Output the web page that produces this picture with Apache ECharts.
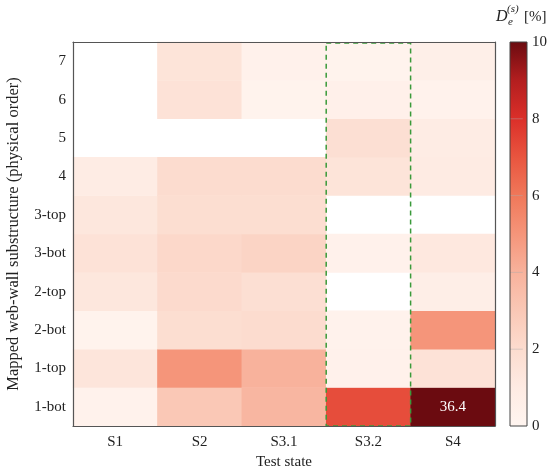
<!DOCTYPE html>
<html>
<head>
<meta charset="utf-8">
<script src="https://cdn.jsdelivr.net/npm/echarts@6/dist/echarts.min.js"></script>
<style>
html,body{margin:0;padding:0;background:#fff;}
#chart{width:550px;height:472px;}
</style>
</head>
<body>
<div id="chart"></div>
<script>
const states = ['S1', 'S2', 'S3.1', 'S3.2', 'S4'];
const parts = ['1-bot', '1-top', '2-bot', '2-top', '3-bot', '3-top', '4', '5', '6', '7'];
// values per state, ordered as parts (null = no data)
const valS1  = [0.3, 1.4, 0.2, 1.3, 1.6, 1.3, 0.9, null, null, null];
const valS2  = [3.0, 5.0, 1.9, 2.1, 2.2, 1.9, 2.0, null, 1.6, 1.5];
const valS31 = [3.8, 4.0, 2.0, 1.8, 2.4, 1.9, 2.0, null, 0.2, 0.4];
const valS32 = [7.2, 0.4, 0.3, null, 0.4, null, 1.5, 1.8, 0.5, 0.2];
const valS4  = [36.4, 1.6, 5.0, 0.7, 1.2, null, 1.0, 0.9, 0.3, 0.6];
const highlightState = 'S3.2';
const cbMin = 0, cbMax = 10, cbStep = 2;
const cmap = ['#fff5f0', '#feebe3', '#fcdccf', '#fac8b6', '#f8b29c', '#f5957a',
              '#f0785a', '#e9553f', '#db2f29', '#b31e1f', '#6b0b10'];

const allVals = [valS1, valS2, valS31, valS32, valS4];
const data = [];
allVals.forEach((col, i) => {
  col.forEach((v, j) => {
    if (v !== null) data.push([i, j, Math.min(v, cbMax), v]);
  });
});

const FONT = 'Liberation Serif';
const chart = echarts.init(document.getElementById('chart'));
const axisLineStyle = { color: '#555', width: 1.2 };

chart.setOption({
  backgroundColor: '#fff',
  animation: false,
  textStyle: { fontFamily: FONT },
  grid: [
    { left: 73, right: 55, top: 42, bottom: 46, containLabel: false, outerBoundsMode: 'none' },
    { left: 510, width: 17, top: 42, bottom: 46, containLabel: false, outerBoundsMode: 'none' }
  ],
  xAxis: [
    {
      type: 'category', data: states, gridIndex: 0, z: 5,
      axisLine: { lineStyle: axisLineStyle },
      axisTick: { inside: true, alignWithLabel: true, length: 4, lineStyle: { color: '#bbb' } },
      axisLabel: { fontFamily: FONT, fontSize: 15, color: '#222', margin: 9 },
      name: 'Test state', nameLocation: 'middle', nameGap: 28,
      nameTextStyle: { fontFamily: FONT, fontSize: 15, color: '#222' },
      splitLine: { show: false }
    },
    {
      type: 'category', data: states, gridIndex: 0, position: 'top', z: 5,
      axisLine: { lineStyle: axisLineStyle },
      axisTick: { show: false }, axisLabel: { show: false }
    },
    {
      type: 'value', gridIndex: 1, min: 0, max: 1, show: false
    }
  ],
  yAxis: [
    {
      type: 'category', data: parts, gridIndex: 0, z: 5,
      axisLine: { lineStyle: axisLineStyle },
      axisTick: { inside: true, alignWithLabel: true, length: 4, lineStyle: { color: '#bbb' } },
      axisLabel: { fontFamily: FONT, fontSize: 15, color: '#222', margin: 7 },
      name: 'Mapped web-wall substructure (physical order)', nameLocation: 'middle', nameGap: 51,
      nameRotate: 90,
      nameTextStyle: { fontFamily: FONT, fontSize: 16.5, color: '#222' },
      splitLine: { show: false }
    },
    {
      type: 'category', data: parts, gridIndex: 0, position: 'right', z: 5,
      axisLine: { lineStyle: axisLineStyle },
      axisTick: { show: false }, axisLabel: { show: false }
    },
    {
      type: 'value', gridIndex: 1, min: cbMin, max: cbMax, interval: cbStep, position: 'right', z: 5,
      axisLine: { show: false },
      axisTick: { show: false },
      axisLabel: { fontFamily: FONT, fontSize: 15, color: '#222', margin: 5 },
      splitLine: { show: false }
    }
  ],
  visualMap: {
    show: false, type: 'continuous', min: cbMin, max: cbMax, dimension: 2, seriesIndex: 0,
    inRange: { color: cmap }
  },
  graphic: [
    { type: 'text', left: 496, top: 9, style: { text: 'D', font: 'italic 16px "Liberation Serif"', fill: '#222' } },
    { type: 'text', left: 507, top: 4, style: { text: '(s)', font: 'italic 11px "Liberation Serif"', fill: '#222' } },
    { type: 'text', left: 508, top: 17, style: { text: 'e', font: 'italic 11px "Liberation Serif"', fill: '#222' } },
    { type: 'text', left: 524, top: 10, style: { text: '[%]', font: '15px "Liberation Serif"', fill: '#222' } }
  ],
  series: [
    {
      type: 'heatmap', xAxisIndex: 0, yAxisIndex: 0, data: data, z: 2,
      itemStyle: { borderWidth: 0 },
      label: {
        show: true, color: '#fff', fontFamily: FONT, fontSize: 15,
        formatter: p => (p.data[3] > cbMax ? String(p.data[3]) : '')
      },
      emphasis: { disabled: true }
    },
    {
      type: 'custom', xAxisIndex: 0, yAxisIndex: 0, z: 4,
      data: [[states.indexOf(highlightState), 0]],
      renderItem: function (params, api) {
        const c = api.coord([api.value(0), api.value(1)]);
        const s = api.size([1, 1]);
        const cs = params.coordSys;
        return {
          type: 'rect',
          shape: { x: c[0] - s[0] / 2, y: cs.y + 1, width: s[0], height: cs.height - 1 },
          style: { fill: 'none', stroke: '#3a9a3a', lineWidth: 1.5, lineDash: [5, 4] }
        };
      }
    },
    {
      type: 'custom', xAxisIndex: 2, yAxisIndex: 2, z: 3,
      data: [[0, cbMin]],
      renderItem: function (params, api) {
        const p0 = api.coord([0, cbMin]);
        const p1 = api.coord([1, cbMax]);
        const stops = cmap.map((col, i) => ({ offset: i / (cmap.length - 1), color: col }));
        const children = [{
          type: 'rect',
          shape: { x: p0[0], y: p1[1], width: p1[0] - p0[0], height: p0[1] - p1[1] },
          style: { fill: new echarts.graphic.LinearGradient(0, 1, 0, 0, stops) }
        }];
        for (let v = cbMin + cbStep; v < cbMax; v += cbStep) {
          const pl = api.coord([0, v]);
          children.push({
            type: 'line',
            shape: { x1: pl[0], y1: pl[1], x2: pl[0] + (p1[0] - p0[0]) * 0.75, y2: pl[1] },
            style: { stroke: 'rgba(170,170,170,0.55)', lineWidth: 0.8 }
          });
        }
        children.push({
          type: 'rect',
          shape: { x: p0[0], y: p1[1], width: p1[0] - p0[0], height: p0[1] - p1[1] },
          style: { fill: 'none', stroke: '#444', lineWidth: 1 }
        });
        return { type: 'group', children: children };
      }
    }
  ]
});
</script>
</body>
</html>
